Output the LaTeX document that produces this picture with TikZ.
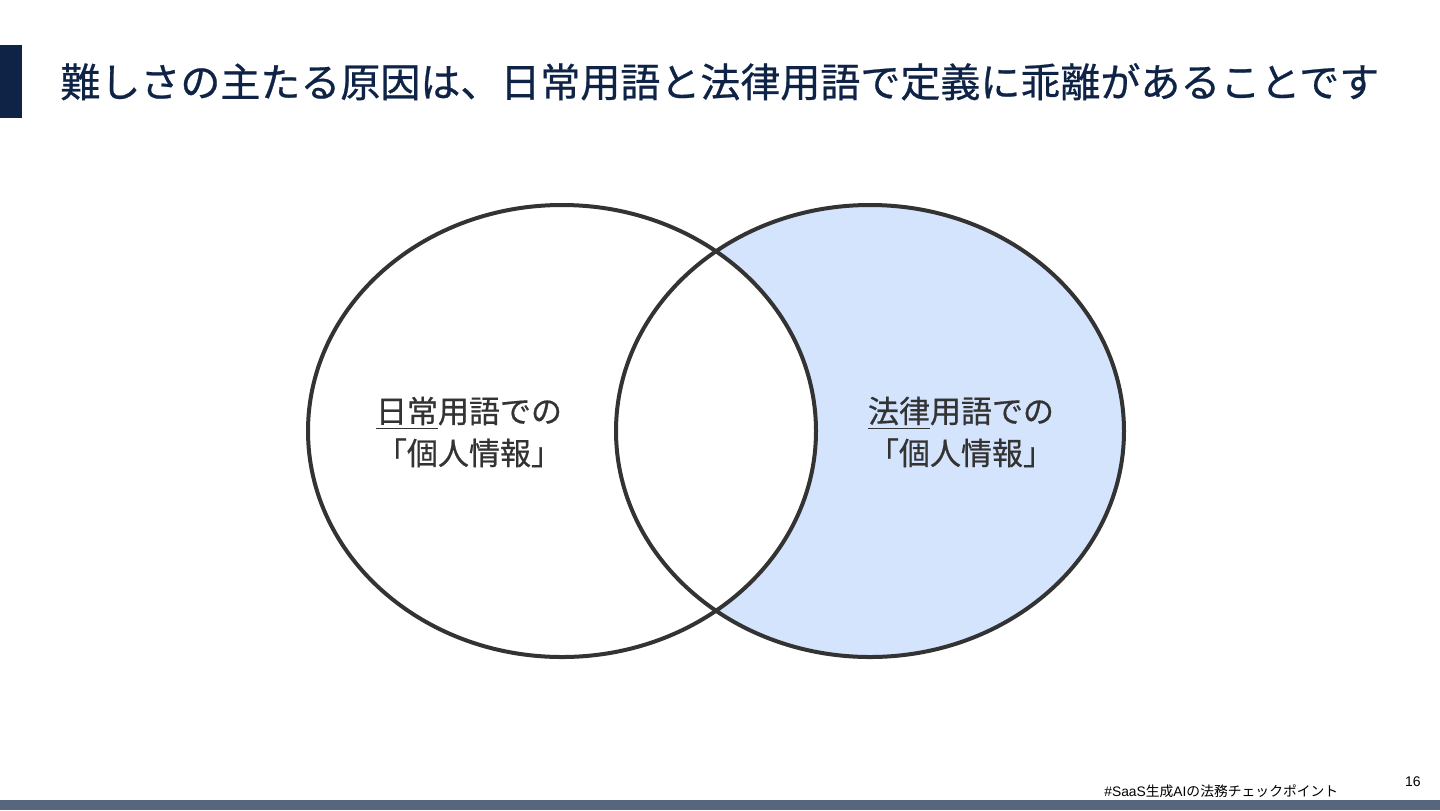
\documentclass[tikz,border=0pt]{standalone}
\usepackage{fontspec}
\setmainfont{Noto Sans CJK JP}
\newfontfamily\jpfont{Noto Sans CJK JP}
\newfontfamily\jpmed[FakeBold=0.6]{Noto Sans CJK JP}
\newfontfamily\latinfont{Liberation Sans}
\definecolor{navy}{HTML}{0E2346}
\definecolor{slate}{HTML}{56667F}
\definecolor{lightblue}{HTML}{D4E4FC}
\definecolor{ink}{HTML}{333333}
\tikzset{
  venn/.style={draw=ink, line width=2pt},
  label/.style={text=ink, font=\jpmed\fontsize{15.5}{21}\selectfont, align=center, inner sep=0pt},
}
\begin{document}
\begin{tikzpicture}[x=0.5pt,y=-0.5pt]
\useasboundingbox (0,0) rectangle (1440,810);
\fill[white] (0,0) rectangle (1440,810);
% title bar
\fill[navy] (0,45) rectangle (22,118);
\node[anchor=base west, inner sep=0pt, text=navy, font=\jpmed\fontsize{20}{24}\selectfont] (title) at (60,97) {難しさの主たる原因は、日常用語と法律用語で定義に乖離があることです};
% venn
\fill[lightblue] (870,431) ellipse [x radius=254, y radius=226];
\begin{scope}
  \clip (562,431) ellipse [x radius=254, y radius=226];
  \fill[white] (870,431) ellipse [x radius=254, y radius=226];
\end{scope}
\draw[venn] (562,431) ellipse [x radius=254, y radius=226];
\draw[venn] (870,431) ellipse [x radius=254, y radius=226];
\node[label] (lefttxt) at (469,432) {\underline{日常}用語での\\「個人情報」};
\node[label] (righttxt) at (961,432) {\underline{法律}用語での\\「個人情報」};
% footer
\fill[slate] (0,800) rectangle (1440,810);
\node[anchor=base west, inner sep=0pt, text=black, font=\jpfont\fontsize{6.9}{8}\selectfont] (footer) at (1104,796) {{\latinfont \#SaaS}生成{\latinfont AI}の法務チェックポイント};
\node[anchor=base east, inner sep=0pt, text=black, font=\latinfont\fontsize{7}{8}\selectfont] (page) at (1421,786) {16};
\end{tikzpicture}
\end{document}
